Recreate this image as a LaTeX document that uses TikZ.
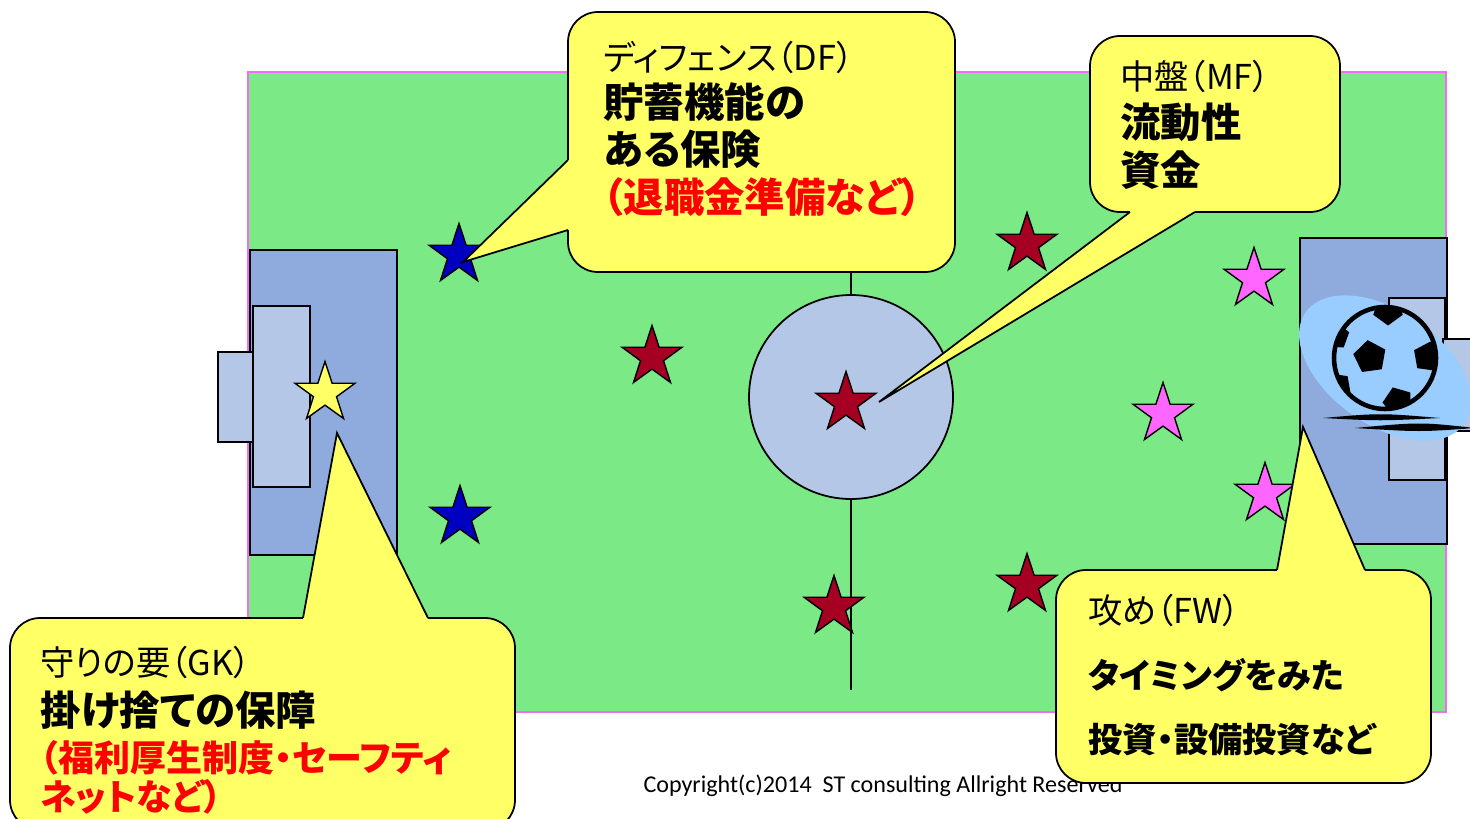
\documentclass[tikz,border=0pt]{standalone}
\usepackage{fontspec}
\setmainfont{Noto Sans CJK JP}[RawFeature=+palt]
\newfontfamily\copyfont{Carlito}
\usetikzlibrary{shapes.geometric}

\definecolor{pitch}{RGB}{124,233,135}
\definecolor{pitchedge}{RGB}{240,110,240}
\definecolor{goalblue}{RGB}{143,170,220}
\definecolor{goallight}{RGB}{180,199,231}
\definecolor{bubblefill}{RGB}{255,255,102}
\definecolor{starred}{RGB}{165,0,33}
\definecolor{starblue}{RGB}{0,0,192}
\definecolor{starpink}{RGB}{255,102,255}
\definecolor{ballglow}{RGB}{153,204,255}

\tikzset{
  goal/.style={draw=black, line width=1pt},
  player/.style={star, star points=5, star point ratio=2.6, minimum size=1.26cm,
    inner sep=0pt, draw=black, line width=0.8pt},
  bubble/.style={fill=bubblefill, draw=black, line width=1pt, rounded corners=0.6cm},
  role/.style={anchor=west, inner sep=0pt, font=\fontsize{19.5}{22}\selectfont},
  point/.style={anchor=west, inner sep=0pt, font=\bfseries\fontsize{23}{26}\selectfont},
  pointsm/.style={point, font=\bfseries\fontsize{19.5}{22}\selectfont},
}

\begin{document}
\begin{tikzpicture}[x=0.02cm, y=-0.02cm]
\useasboundingbox (0,0) rectangle (1470,818);
\clip (0,0) rectangle (1470,818);
\fill[white] (0,0) rectangle (1470,818);

% pitch, half-way line and centre circle
\filldraw[fill=pitch, draw=pitchedge, line width=0.6pt] (248,72) rectangle (1446,712);
\draw[line width=1pt] (851,94) -- (851,690);
\filldraw[fill=goallight, draw=black, line width=1pt] (851,397) circle [radius=102];

% left goal
\filldraw[goal, fill=goalblue] (250,250) rectangle (397,555);
\filldraw[goal, fill=goallight] (253,306) rectangle (310,487);
\filldraw[goal, fill=goallight] (218,352) rectangle (253,442);

% right goal
\filldraw[goal, fill=goalblue] (1300,238) rectangle (1447,544);
\filldraw[goal, fill=goallight] (1389,298) rectangle (1445,480);
\filldraw[goal, fill=goallight] (1443,339) rectangle (1490,431);

% players
\node[player, fill=starblue] (dftop) at (459,255) {};
\node[player, fill=starblue] (dfbot) at (460,517) {};
\node[player, fill=bubblefill] (keeper) at (325,393) {};
\node[player, fill=starred] (mfleft) at (652,357) {};
\node[player, fill=starred] (mftop) at (1027,244) {};
\node[player, fill=starred] (centre) at (846,403) {};
\node[player, fill=starred] (mfbot) at (834,607) {};
\node[player, fill=starred] (mfright) at (1027,585) {};
\node[player, fill=starpink] (fwtop) at (1254,279) {};
\node[player, fill=starpink] (fwmid) at (1163,414) {};
\node[player, fill=starpink] (fwbot) at (1265,494) {};

% ball in the net
\fill[ballglow, rotate around={-35:(1385,368)}] (1385,368) ellipse [x radius=97, y radius=57];
\begin{scope}
  \clip (1385,358) circle [radius=50];
  \node[regular polygon, regular polygon sides=5, fill=black, minimum size=0.68cm, inner sep=0pt, rotate=8] (pcentre) at (1370,357) {};
  \node[regular polygon, regular polygon sides=5, fill=black, minimum size=0.62cm, inner sep=0pt, rotate=180] (ptop) at (1388,310) {};
  \node[regular polygon, regular polygon sides=5, fill=black, minimum size=0.62cm, inner sep=0pt, rotate=-80] (pright) at (1428,357) {};
  \node[regular polygon, regular polygon sides=5, fill=black, minimum size=0.62cm, inner sep=0pt, rotate=20] (pbot) at (1398,402) {};
  \node[regular polygon, regular polygon sides=5, fill=black, minimum size=0.55cm, inner sep=0pt, rotate=70] (pleft) at (1336,336) {};
  \node[regular polygon, regular polygon sides=5, fill=black, minimum size=0.55cm, inner sep=0pt, rotate=100] (plow) at (1338,386) {};
\end{scope}
\draw[line width=2.6pt] (1385,358) circle [radius=51];
\fill (1323,418) .. controls (1380,413) .. (1440,418) .. controls (1380,421) .. (1323,418);
\fill (1355,428) .. controls (1420,422) .. (1475,428) .. controls (1420,432) .. (1355,428);

\node[font=\copyfont\fontsize{13.7}{16}\selectfont] (copy) at (883,786)
  {Copyright(c)2014\ \ ST consulting Allright Reserved};

% defence
\coordinate (dftip) at (463,262);
\filldraw[bubble] (568,12) rectangle (955,272);
\fill[bubblefill] (dftip) -- (568,160) -- (572,160) -- (572,230) -- (568,230) -- cycle;
\draw[line width=1pt] (568,160) -- (dftip) -- (568,230);
\node[role] (dfrole) at (603,57) {ディフェンス（DF）};
\node[point] (dfa) at (603,102) {貯蓄機能の};
\node[point] (dfb) at (603,149) {ある保険};
\node[point, text=red] (dfc) at (603,197) {（退職金準備など）};

% midfield
\coordinate (mftip) at (879,402);
\filldraw[bubble] (1090,36) rectangle (1340,212);
\fill[bubblefill] (mftip) -- (1130,212) -- (1130,208) -- (1195,208) -- (1195,212) -- cycle;
\draw[line width=1pt] (1130,212) -- (mftip) -- (1195,212);
\node[role] (mfrole) at (1120,76) {中盤（MF）};
\node[point] (mfa) at (1120,122) {流動性};
\node[point] (mfb) at (1120,170) {資金};

% goalkeeper
\coordinate (gktip) at (337,433);
\filldraw[bubble] (10,618) rectangle (515,830);
\fill[bubblefill] (gktip) -- (303,618) -- (303,622) -- (428,622) -- (428,618) -- cycle;
\draw[line width=1pt] (303,618) -- (gktip) -- (428,618);
\node[role] (gkrole) at (40,662) {守りの要（GK）};
\node[point] (gka) at (40,710) {掛け捨ての保障};
\node[pointsm, font=\bfseries\fontsize{20.5}{24}\selectfont, text=red] (gkb) at (40,758) {（福利厚生制度・セーフティ};
\node[pointsm, font=\bfseries\fontsize{20.5}{24}\selectfont, text=red] (gkc) at (40,797) {ネットなど）};

% forwards
\coordinate (fwtip) at (1303,427);
\filldraw[bubble] (1056,570) rectangle (1431,783);
\fill[bubblefill] (fwtip) -- (1277,570) -- (1277,574) -- (1365,574) -- (1365,570) -- cycle;
\draw[line width=1pt] (1277,570) -- (fwtip) -- (1365,570);
\node[role] (fwrole) at (1088,610) {攻め（FW）};
\node[pointsm] (fwa) at (1088,675) {タイミングをみた};
\node[pointsm] (fwb) at (1088,740) {投資・設備投資など};
\end{tikzpicture}
\end{document}
